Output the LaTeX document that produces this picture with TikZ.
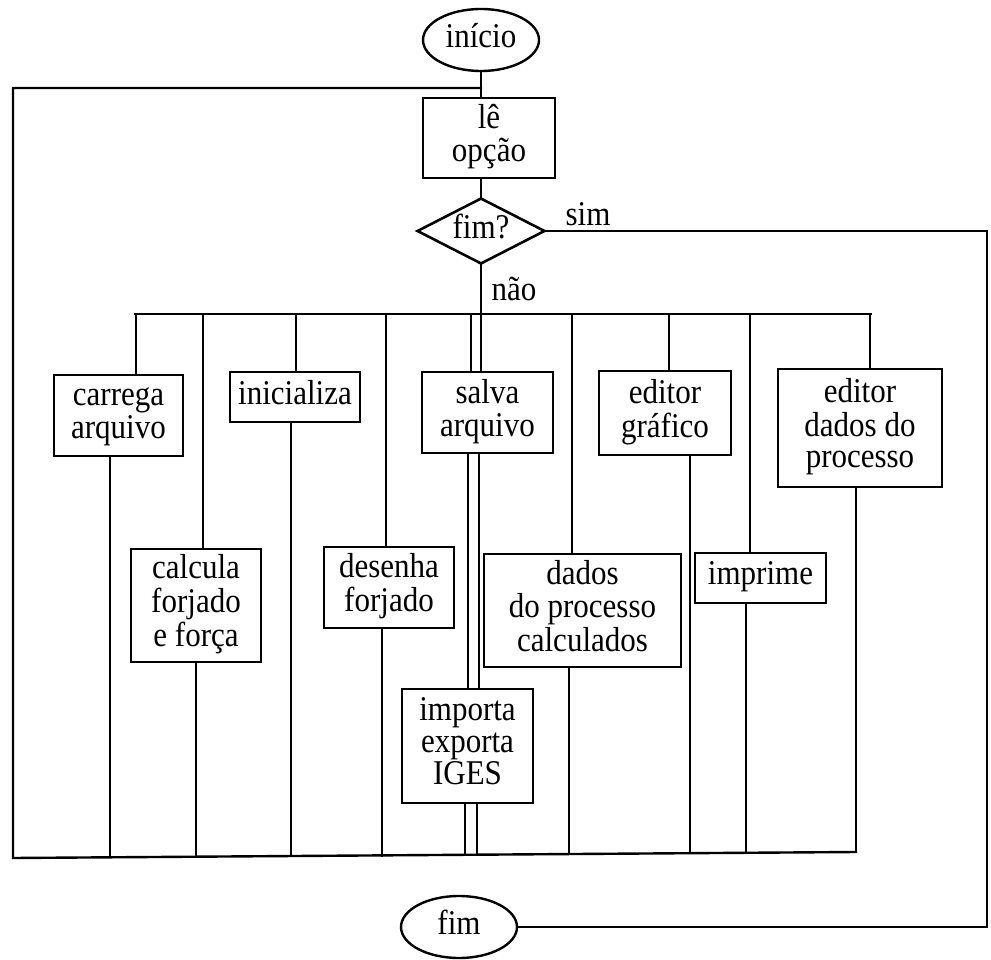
\documentclass[tikz,border=0pt]{standalone}
\usepackage{fontspec}
\usepackage{graphicx}
\setmainfont{Liberation Serif}
\usetikzlibrary{shapes.geometric}
\newcommand\fsz{\fontsize{31}{28.3}\selectfont}
\newcommand\sx[1]{\scalebox{1}[1.12]{\fsz\begin{tabular}{@{}c@{}}#1\end{tabular}}}
\tikzset{
  ln/.style={line width=2.4pt, line cap=rect},
  pbox/.style={draw, fill=white, line width=2.6pt, inner sep=0pt, align=center, font=\fsz},
  term/.style={ellipse, draw, fill=white, line width=2.4pt, inner sep=0pt, font=\fsz},
  dec/.style={diamond, draw, fill=white, line width=2.6pt, inner sep=0pt, aspect=1.94, font=\fsz},
  lbl/.style={inner sep=0pt, font=\fsz, anchor=base}
}
\begin{document}
\begin{tikzpicture}[x=1pt, y=-1pt]
\useasboundingbox[fill=white] (0,0) rectangle (991,960);

% main column
\node[term, minimum width=116, minimum height=62] (inicio) at (481,40) {\sx{início}};
\node[pbox, minimum width=132, minimum height=80] (le) at (489,138) {\sx{lê\\opção}};
\node[dec, minimum width=128, minimum height=66] (fimq) at (481,231) {\sx{fim?}};
\node[term, minimum width=116, minimum height=62] (fim) at (459,927) {\sx{fim}};

% branch boxes
\node[pbox, minimum width=129, minimum height=81] (carrega) at (118.5,415.5) {\sx{carrega\\arquivo}};
\node[pbox, minimum width=130, minimum height=113] (calcula) at (196,605.5) {\sx{calcula\\forjado\\e força}};
\node[pbox, minimum width=130, minimum height=50] (inicializa) at (295,397) {\sx{inicializa}};
\node[pbox, minimum width=130, minimum height=81] (desenha) at (389,587.5) {\sx{desenha\\forjado}};
\node[pbox, minimum width=131, minimum height=81] (salva) at (487.5,412.5) {\sx{salva\\arquivo}};
\node[pbox, minimum width=131, minimum height=114] (importa) at (467.5,746) {\sx{importa\\exporta\\IGES}};
\node[pbox, minimum width=197, minimum height=113] (dcalc) at (582.5,610.5) {\sx{dados\\do processo\\calculados}};
\node[pbox, minimum width=132, minimum height=84] (egraf) at (665,413) {\sx{editor\\gráfico}};
\node[pbox, minimum width=131, minimum height=50] (imprime) at (760.5,578) {\sx{imprime}};
\node[pbox, minimum width=164, minimum height=118] (edados) at (860,428) {\sx{editor\\dados do\\processo}};

% bus coordinates
\coordinate (busL) at (135,314);
\coordinate (busR) at (871,314);
\coordinate (botL) at (13,858);
\coordinate (botR) at (856,852);
\coordinate (loopT) at (481,88);
\coordinate (loopL) at (13,88);
\coordinate (rgtT) at (987,231);
\coordinate (rgtB) at (987,927);

% top branch points
\coordinate (t1) at (136,314);
\coordinate (t2) at (203,314);
\coordinate (t3) at (296,314);
\coordinate (t4) at (386,314);
\coordinate (t5) at (471,314);
\coordinate (t6) at (572,314);
\coordinate (t7) at (669,314);
\coordinate (t8) at (750,314);
\coordinate (t9) at (870,314);
% bottom branch points
\coordinate (u1) at (110,857);
\coordinate (u2) at (196,857);
\coordinate (u3) at (291,856);
\coordinate (u4) at (382,856);
\coordinate (u5) at (465,855);
\coordinate (u5b) at (477,855);
\coordinate (u6) at (569,854);
\coordinate (u7) at (690,853);
\coordinate (u8) at (746,853);
\coordinate (u9) at (856,852);
\coordinate (m5) at (468,600);
\coordinate (m5b) at (479,600);

% main flow
\draw[ln] (inicio.south) -- (inicio.south |- le.north);
\draw[ln] (fimq.north |- le.south) -- (fimq.north);
\draw[ln] (loopT) -- (loopL) -- (botL) -- (botR);
\draw[ln] (busL) -- (busR);
\draw[ln] (fimq.east) -- (rgtT) -- (rgtB) -- (fim.east);

% branches
\draw[ln] (t1) -- (carrega.north -| t1);
\draw[ln] (carrega.south -| u1) -- (u1);
\draw[ln] (t2) -- (calcula.north -| t2);
\draw[ln] (calcula.south -| u2) -- (u2);
\draw[ln] (t3) -- (inicializa.north -| t3);
\draw[ln] (inicializa.south -| u3) -- (u3);
\draw[ln] (t4) -- (desenha.north -| t4);
\draw[ln] (desenha.south -| u4) -- (u4);
\draw[ln] (t5) -- (salva.north -| t5);
\draw[ln] (salva.south -| m5) -- (importa.north -| m5);
\draw[ln] (importa.south -| u5) -- (u5);
\draw[ln] (fimq.south) -- (salva.north -| fimq.south);
\draw[ln] (salva.south -| m5b) -- (importa.north -| m5b);
\draw[ln] (importa.south -| u5b) -- (u5b);
\draw[ln] (t6) -- (dcalc.north -| t6);
\draw[ln] (dcalc.south -| u6) -- (u6);
\draw[ln] (t7) -- (egraf.north -| t7);
\draw[ln] (egraf.south -| u7) -- (u7);
\draw[ln] (t8) -- (imprime.north -| t8);
\draw[ln] (imprime.south -| u8) -- (u8);
\draw[ln] (t9) -- (edados.north -| t9);
\draw[ln] (edados.south -| u9) -- (u9);

% labels
\node[lbl] (sim) at (588,226) {\scalebox{1}[1.12]{sim}};
\node[lbl] (nao) at (514,300) {\scalebox{1}[1.12]{não}};
\end{tikzpicture}
\end{document}
